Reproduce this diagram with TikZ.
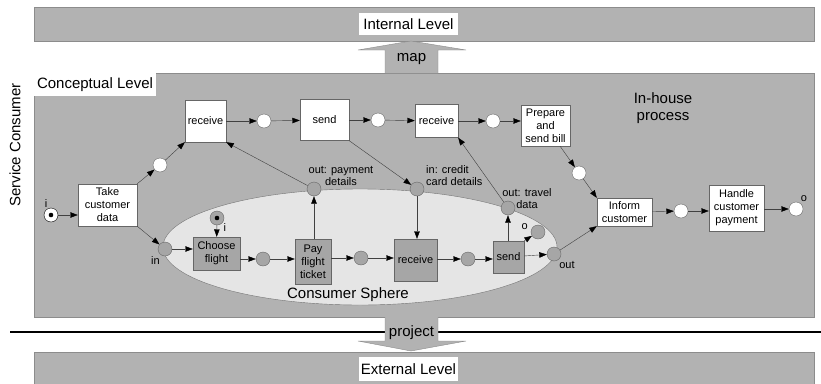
\documentclass[tikz,border=0pt]{standalone}
\usepackage{fontspec}
\setmainfont{Liberation Sans}
\usetikzlibrary{arrows.meta}

\begin{document}
\begin{tikzpicture}[x=1pt, y=-1pt,
	band/.style={draw=black!45, fill=black!30},
	tag/.style={fill=white, inner sep=0pt, font=\fontsize{15}{17}\selectfont},
	big/.style={font=\fontsize{15}{17}\selectfont, align=center, inner sep=0pt},
	trans/.style={draw=black!60, fill=white, align=center, inner sep=0pt, font=\fontsize{11}{13}\selectfont},
	ctrans/.style={trans, fill=black!35},
	place/.style={circle, draw=black!60, fill=white, minimum size=14pt, inner sep=0pt},
	cplace/.style={place, fill=black!35},
	lbl/.style={font=\fontsize{11}{12}\selectfont, inner sep=1pt, align=center},
	arc/.style={draw=black!75, -{Triangle[length=7.5pt, width=5.5pt, color=black]}}
]
	\useasboundingbox (0, 0) rectangle (821, 383);

	% levels
	\draw [band] (34, 7) rectangle (814, 41);
	\draw [band] (34, 73) rectangle (814, 317);
	\draw [band] (34, 352) rectangle (814, 390);
	\node [tag, minimum width=99, minimum height=22] (internal) at (408.5, 24) {Internal Level};
	\node [tag, minimum width=122, minimum height=23] (conceptual) at (95, 84.5) {Conceptual Level};
	\node [tag, minimum width=99, minimum height=24] (external) at (408.5, 369) {External Level};
	\node [big, rotate=90] (consumer) at (15, 145) {Service Consumer};
	\node [big] (inhouse) at (663, 108) {In-house\\process};

	\draw [line width=2pt] (10, 332) -- (821, 332);
	\draw [band] (385, 73) -- (385, 50) -- (358, 50) -- (411, 41) -- (466, 50) -- (438, 50) -- (438, 73);
	\draw [band] (385, 317) -- (385, 341) -- (358, 341) -- (411, 351) -- (466, 341) -- (438, 341) -- (438, 317);
	\node [big] (map) at (411.5, 59) {map};
	\node [big] (project) at (411.5, 333) {project};

	% consumer sphere
	\draw [draw=black!55, fill=black!10] (360, 247) ellipse [x radius=197, y radius=58];
	\node [big] (sphere) at (348, 295) {Consumer Sphere};

	% in-house process
	\node [place, draw=black, label={[lbl]110:i}] (ini) at (51, 215) {};
	\fill (ini) circle (2.3);
	\node [trans, minimum width=59, minimum height=42] (take) at (107.5, 205) {Take\\customer\\data};
	\node [place] (p1) at (160, 165) {};
	\node [trans, minimum width=41, minimum height=42] (recv1) at (205.5, 121) {receive};
	\node [place] (p2) at (264, 121) {};
	\node [trans, minimum width=49, minimum height=41] (send1) at (324.5, 120) {send};
	\node [place] (p3) at (378, 120) {};
	\node [trans, minimum width=43, minimum height=33] (recv2) at (436.5, 121) {receive};
	\node [place] (p4) at (493, 121) {};
	\node [trans, minimum width=49, minimum height=41] (prep) at (545.5, 125.5) {Prepare\\and\\send bill};
	\node [place] (p5) at (579, 173) {};
	\node [trans, minimum width=55, minimum height=28] (inform) at (624.5, 212) {Inform\\customer};
	\node [place] (p6) at (681, 211) {};
	\node [trans, minimum width=55, minimum height=46] (handle) at (736.5, 208) {Handle\\customer\\payment};
	\node [place, label={[lbl]60:o}] (fin) at (796, 209) {};

	% consumer process
	\node [cplace, label={[lbl]-125:in}] (inp) at (165, 249) {};
	\node [cplace, label={[lbl]-40:i}] (cini) at (217, 218) {};
	\fill (cini) circle (2.3);
	\node [ctrans, minimum width=47, minimum height=33] (choose) at (216.5, 253.5) {Choose\\flight};
	\node [cplace] (q1) at (263, 259) {};
	\node [ctrans, minimum width=36, minimum height=45] (pay) at (313, 261.5) {Pay\\flight\\ticket};
	\node [cplace] (q2) at (361, 258) {};
	\node [ctrans, minimum width=43, minimum height=42] (recv3) at (415.5, 260) {receive};
	\node [cplace] (q3) at (468, 259) {};
	\node [ctrans, minimum width=31, minimum height=32] (send2) at (508.5, 257) {send};
	\node [cplace, label={[lbl, label distance=2pt]175:o}] (qo) at (538, 232) {};
	\node [cplace, label={[lbl]-55:out}] (outp) at (554, 254) {};
	\node [cplace] (opay) at (314, 189) {};
	\node [cplace] (icc) at (417, 189) {};
	\node [cplace] (otd) at (508, 208) {};
	\node [lbl] (opaytxt) at (341, 176) {out: payment\\details};
	\node [lbl, align=left, anchor=west] (icctxt) at (425, 176) {in: credit\\card details};
	\node [lbl] (otdtxt) at (527, 198.5) {out: travel\\data};

	% arcs
	\draw [arc] (ini) -- (ini -| take.west);
	\draw [arc] (take.north east) -- (p1);
	\draw [arc] (p1) -- (recv1.south west);
	\draw [arc] (recv1) -- (p2);
	\draw [arc] (p2) -- (send1);
	\draw [arc] (send1) -- (p3);
	\draw [arc] (p3) -- (recv2);
	\draw [arc] (recv2) -- (p4);
	\draw [arc] (p4) -- (p4 -| prep.west);
	\draw [arc] (prep) -- (p5);
	\draw [arc] (p5) -- (inform.north west);
	\draw [arc] (inform) -- (p6);
	\draw [arc] (p6) -- (p6 -| handle.west);
	\draw [arc] (fin -| handle.east) -- (fin);
	\draw [arc] (take.south east) -- (inp);
	\draw [arc] (inp) -- (inp -| choose.west);
	\draw [arc] (cini) -- (choose);
	\draw [arc] (q1 -| choose.east) -- (q1);
	\draw [arc] (q1) -- (q1 -| pay.west);
	\draw [arc] (q2 -| pay.east) -- (q2);
	\draw [arc] (q2) -- (q2 -| recv3.west);
	\draw [arc] (q3 -| recv3.east) -- (q3);
	\draw [arc] (q3) -- (q3 -| send2.west);
	\draw [arc] (send2) -- (outp);
	\draw [arc] (send2.north east) -- (qo);
	\draw [arc] (send2.north -| otd) -- (otd);
	\draw [arc] (pay.north -| opay) -- (opay);
	\draw [arc] (opay) -- (recv1.south east);
	\draw [arc] (send1.south east) -- (icc);
	\draw [arc] (icc) -- (icc |- recv3.north);
	\draw [arc] (otd) -- (recv2.south east);
	\draw [arc] (outp) -- (inform.south west);
\end{tikzpicture}
\end{document}
